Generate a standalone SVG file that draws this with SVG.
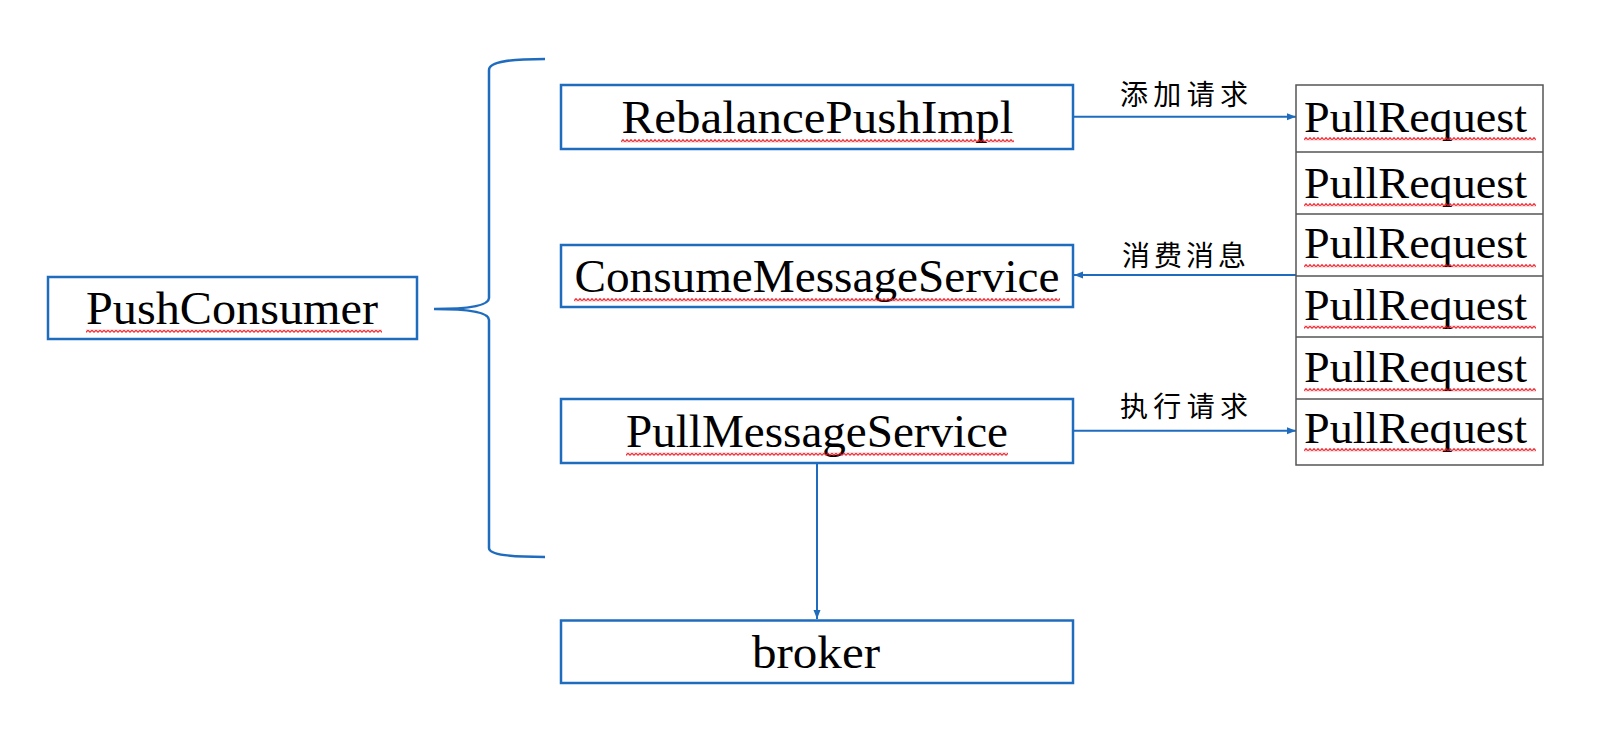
<svg xmlns="http://www.w3.org/2000/svg" width="1608" height="734" viewBox="0 0 1608 734">
<style>
.box{fill:#fff;stroke:#1f6cbf;stroke-width:2.5}
.lbl{font-family:"Liberation Serif","Times New Roman",serif;font-size:46px;fill:#000;text-anchor:middle}
.pr{font-family:"Liberation Serif","Times New Roman",serif;font-size:44px;fill:#000}
.cn{font-family:"Noto Sans CJK SC","Noto Sans",sans-serif;font-size:28px;fill:#000;text-anchor:middle}
.conn{fill:none;stroke:#1f6cbf;stroke-width:2}
.brace{fill:none;stroke:#1f6cbf;stroke-width:2.5}
.grid{fill:none;stroke:#555;stroke-width:1.5}
.sq{fill:url(#squig)}
</style>
<defs>
<pattern id="squig" patternUnits="userSpaceOnUse" x="0" y="0" width="4" height="3.5">
<path d="M0,2.8 L2,0.7 L4,2.8" fill="none" stroke="#f0141e" stroke-width="1.2"/>
</pattern>
<marker id="arr" markerUnits="userSpaceOnUse" markerWidth="10" markerHeight="8" refX="9" refY="4" orient="auto">
<path d="M0,0.5 L9,4 L0,7.5 Z" fill="#1f6cbf"/>
</marker>
</defs>
<rect width="1608" height="734" fill="#fff"/>

<g id="connectors">
<path id="brace" class="brace" d="M545,59 C512,59 489,61 489,70 L489,298 C489,305 472,309 434,309 C472,309 489,313 489,320 L489,548 C489,555 512,557 545,557"/>
<line class="conn" x1="1073" y1="116.7" x2="1296" y2="116.7" marker-end="url(#arr)"/>
<line class="conn" x1="1296" y1="275" x2="1074" y2="275" marker-end="url(#arr)"/>
<line class="conn" x1="1073" y1="430.7" x2="1296" y2="430.7" marker-end="url(#arr)"/>
<line class="conn" x1="817" y1="464" x2="817" y2="619" marker-end="url(#arr)"/>
<text class="cn" x="1184" y="105" textLength="128" lengthAdjust="spacing">添加请求</text>
<text class="cn" x="1184" y="266" textLength="124" lengthAdjust="spacing">消费消息</text>
<text class="cn" x="1184" y="417" textLength="128" lengthAdjust="spacing">执行请求</text>
</g>

<g id="PushConsumer">
<rect class="box" x="48" y="277" width="369" height="62"/>
<text class="lbl" x="232" y="323.5" textLength="292" lengthAdjust="spacingAndGlyphs">PushConsumer</text>
<rect class="sq" transform="translate(86,329.5)" width="296" height="3.5"/>
</g>

<g id="RebalancePushImpl">
<rect class="box" x="561" y="85" width="512" height="64"/>
<text class="lbl" x="817.5" y="132.7" textLength="392" lengthAdjust="spacingAndGlyphs">RebalancePushImpl</text>
<rect class="sq" transform="translate(621,139)" width="393" height="3.5"/>
</g>

<g id="ConsumeMessageService">
<rect class="box" x="561" y="245" width="512" height="62"/>
<text class="lbl" x="817" y="291.7" textLength="485" lengthAdjust="spacingAndGlyphs">ConsumeMessageService</text>
<rect class="sq" transform="translate(574,298)" width="486" height="3.5"/>
</g>

<g id="PullMessageService">
<rect class="box" x="561" y="399" width="512" height="64"/>
<text class="lbl" x="817" y="446.7" textLength="382" lengthAdjust="spacingAndGlyphs">PullMessageService</text>
<rect class="sq" transform="translate(626,452.5)" width="382" height="3.5"/>
</g>

<g id="broker">
<rect class="box" x="561" y="620.5" width="512" height="62.5"/>
<text class="lbl" x="816" y="667.5" textLength="128" lengthAdjust="spacingAndGlyphs">broker</text>
</g>

<g id="PullRequestQueue">
<rect class="grid" x="1296" y="85" width="247" height="380"/>
<line class="grid" x1="1296" y1="152" x2="1543" y2="152"/>
<line class="grid" x1="1296" y1="214" x2="1543" y2="214"/>
<line class="grid" x1="1296" y1="276" x2="1543" y2="276"/>
<line class="grid" x1="1296" y1="337" x2="1543" y2="337"/>
<line class="grid" x1="1296" y1="399" x2="1543" y2="399"/>
<g id="pr1"><text class="pr" x="1304" y="131.7" textLength="223" lengthAdjust="spacingAndGlyphs">PullRequest</text><rect class="sq" transform="translate(1304,137)" width="232" height="3.5"/></g>
<g id="pr2"><text class="pr" x="1304" y="197.7" textLength="223" lengthAdjust="spacingAndGlyphs">PullRequest</text><rect class="sq" transform="translate(1304,203)" width="232" height="3.5"/></g>
<g id="pr3"><text class="pr" x="1304" y="258.3" textLength="223" lengthAdjust="spacingAndGlyphs">PullRequest</text><rect class="sq" transform="translate(1304,264)" width="232" height="3.5"/></g>
<g id="pr4"><text class="pr" x="1304" y="320" textLength="223" lengthAdjust="spacingAndGlyphs">PullRequest</text><rect class="sq" transform="translate(1304,325.5)" width="232" height="3.5"/></g>
<g id="pr5"><text class="pr" x="1304" y="382.3" textLength="223" lengthAdjust="spacingAndGlyphs">PullRequest</text><rect class="sq" transform="translate(1304,388)" width="232" height="3.5"/></g>
<g id="pr6"><text class="pr" x="1304" y="442.7" textLength="223" lengthAdjust="spacingAndGlyphs">PullRequest</text><rect class="sq" transform="translate(1304,448)" width="232" height="3.5"/></g>
</g>
</svg>
